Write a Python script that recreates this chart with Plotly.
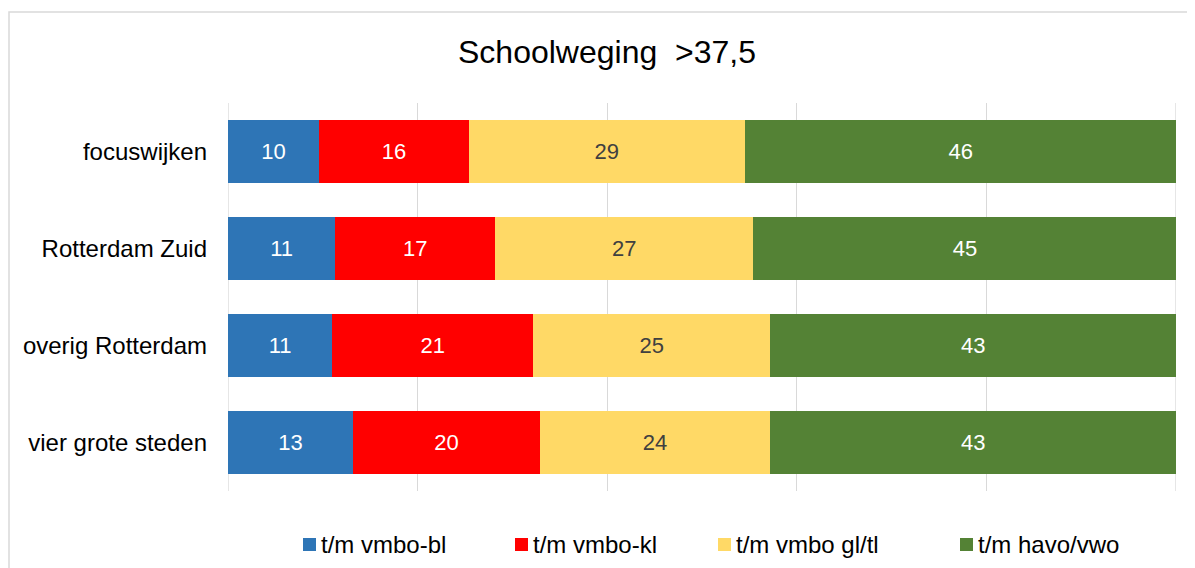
import plotly.graph_objects as go

categories = ["focuswijken", "Rotterdam Zuid", "overig Rotterdam", "vier grote steden"]
series_names = ["t/m vmbo-bl", "t/m vmbo-kl", "t/m vmbo gl/tl", "t/m havo/vwo"]
vmbo_bl = [9.6, 11.3, 11.0, 13.2]
vmbo_kl = [15.8, 16.9, 21.2, 19.7]
vmbo_gltl = [29.1, 27.2, 25.0, 24.3]
havo_vwo = [45.6, 44.7, 42.8, 42.8]

series_values = [vmbo_bl, vmbo_kl, vmbo_gltl, havo_vwo]
colors = ["#2E75B6", "#FF0000", "#FFD966", "#548235"]
text_colors = ["#FFFFFF", "#FFFFFF", "#404040", "#FFFFFF"]

FONT = "Liberation Sans, Arial, sans-serif"
# the page body adds an 8px margin, so the figure is placed at (8, 8)
OFF = 8
W, H = 1195 - OFF, 568 - OFF
PLOT_L, PLOT_R, PLOT_T, PLOT_B = 228, 1176, 103, 491   # window pixels
ML, MT = PLOT_L - OFF, PLOT_T - OFF
MR, MB = W - (PLOT_R - OFF), H - (PLOT_B - OFF)
PW, PH = PLOT_R - PLOT_L, PLOT_B - PLOT_T


def px_x(x):
    return (x - PLOT_L) / PW


def px_y(y):
    return (PLOT_B - y) / PH


fig = go.Figure()
for name, vals, col, tcol in zip(series_names, series_values, colors, text_colors):
    fig.add_trace(go.Bar(
        y=categories,
        x=vals,
        name=name,
        orientation="h",
        marker=dict(color=col, line_width=0),
        texttemplate="%{x:.0f}",
        textposition="inside",
        insidetextanchor="middle",
        textangle=0,
        constraintext="none",
        textfont=dict(family=FONT, size=22, color=tcol),
        showlegend=False,
    ))

# gridlines on the two edges of the value axis
for edge in (0, 100):
    fig.add_shape(
        type="line", xref="x", yref="paper", x0=edge, x1=edge, y0=0, y1=1,
        line=dict(color="#D9D9D9", width=1.3), layer="below",
    )

# legend drawn by hand, Excel style
legend_x = [303, 515, 718, 960]
for lx, name, col in zip(legend_x, series_names, colors):
    fig.add_shape(
        type="rect", xref="paper", yref="paper",
        x0=px_x(lx), x1=px_x(lx + 13), y0=px_y(551), y1=px_y(538),
        fillcolor=col, line_width=0,
    )
    fig.add_annotation(
        x=px_x(lx + 16), y=px_y(544), xref="paper", yref="paper",
        text=name, showarrow=False, xanchor="left", yanchor="middle",
        font=dict(family=FONT, size=24, color="#000000"),
    )

# chart area border
fig.add_shape(
    type="rect", xref="paper", yref="paper",
    x0=px_x(9), x1=px_x(1260), y0=px_y(640), y1=px_y(12),
    line=dict(color="#D9D9D9", width=1.5), fillcolor="rgba(0,0,0,0)",
    layer="below",
)

fig.add_annotation(
    x=px_x(607), y=px_y(52), xref="paper", yref="paper",
    text="Schoolweging  >37,5", showarrow=False,
    xanchor="center", yanchor="middle",
    font=dict(family=FONT, size=32, color="#000000"),
)

fig.update_layout(
    barmode="stack",
    bargap=0.36,
    width=W, height=H,
    margin=dict(l=ML, r=MR, t=MT, b=MB, pad=0),
    paper_bgcolor="white",
    plot_bgcolor="white",
    xaxis=dict(
        range=[0, 100], dtick=20, showticklabels=False,
        showgrid=True, gridcolor="#D9D9D9", gridwidth=1.3,
        zeroline=False, showline=False, ticks="",
    ),
    yaxis=dict(
        autorange="reversed", showgrid=False, showline=False, ticks="",
        tickfont=dict(family=FONT, size=24, color="#000000"),
        ticklabelstandoff=20,
    ),
)

fig.write_html("out.html")
